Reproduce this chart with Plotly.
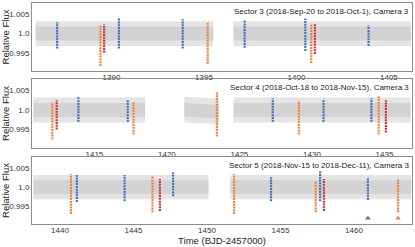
import plotly.graph_objects as go

# ---------------- data ----------------
sector_titles = [
    "Sector 3 (2018-Sep-20 to 2018-Oct-1), Camera 3",
    "Sector 4 (2018-Oct-18 to 2018-Nov-15), Camera 3",
    "Sector 5 (2018-Nov-15 to 2018-Dec-11), Camera 3",
]
x_ranges = [[1385.7, 1406.25], [1410.7, 1436.9], [1438.1, 1463.95]]
x_ticks = [[1390, 1395, 1400, 1405], [1415, 1420, 1425, 1430, 1435],
           [1440, 1445, 1450, 1455, 1460]]
y_ticks = [0.995, 1.0, 1.005]
y_tick_labels = ["0.995", "1.0", "1.005"]

# light-curve coverage (start, end) and envelope of the grey cloud
seg_start = [[1385.9, 1396.6], [1410.8, 1421.2, 1424.6], [1438.2, 1451.6]]
seg_end = [[1395.5, 1406.2], [1418.5, 1423.6, 1436.8], [1450.1, 1463.9]]
outer_hi_start = [[1.0032, 1.0032], [1.0032, 1.0034, 1.0032], [1.0032, 1.0032]]
outer_hi_end = [[1.0032, 1.0032], [1.0032, 1.0029, 1.0032], [1.0032, 1.0032]]
outer_lo_start = [[0.9968, 0.9968], [0.9968, 0.9969, 0.9968], [0.9968, 0.9968]]
outer_lo_end = [[0.9968, 0.9968], [0.9968, 0.9964, 0.9968], [0.9968, 0.9968]]
inner_hi = [[1.0018, 1.0018], [1.0018, 1.0016, 1.0018], [1.0018, 1.0018]]
inner_lo = [[0.9982, 0.9982], [0.9982, 0.9982, 0.9982], [0.9982, 0.9982]]

# individual transit events (time, lowest flux, highest flux, planet)
transit_time = [
    [1387.06, 1389.4, 1389.6, 1390.4, 1393.85, 1395.2, 1397.2, 1400.48, 1400.8, 1401.0, 1403.9],
    [1412.1, 1412.4, 1413.9, 1417.3, 1417.7, 1423.45, 1427.3, 1429.1, 1430.8, 1434.1, 1434.6, 1435.1],
    [1440.75, 1441.15, 1444.4, 1446.3, 1446.8, 1447.7, 1451.85, 1454.36, 1457.4, 1457.7, 1457.96, 1460.95, 1463.0],
]
transit_low = [
    [0.9961, 0.9916, 0.9950, 0.9961, 0.9961, 0.9921, 0.9963, 0.9955, 0.9924, 0.9947, 0.9968],
    [0.9925, 0.9950, 0.9970, 0.9970, 0.99375, 0.99325, 0.9970, 0.99375, 0.9970, 0.9970, 0.99375, 0.99425],
    [0.9929, 0.9961, 0.9963, 0.9934, 0.9937, 0.9976, 0.9929, 0.9963, 0.9934, 0.9963, 0.9937, 0.9966, 0.9934],
]
transit_high = [
    [1.0029, 1.0021, 1.0024, 1.0039, 1.0037, 1.0029, 1.0034, 1.0039, 1.0026, 1.0024, 1.0021],
    [1.0020, 1.0025, 1.0033, 1.0025, 1.0020, 1.0045, 1.0030, 1.00225, 1.0025, 1.0030, 1.0035, 1.0025],
    [1.0034, 1.0032, 1.0032, 1.0029, 1.0021, 1.0039, 1.0034, 1.0026, 1.0016, 1.0042, 1.0021, 1.0026, 1.0021],
]
transit_planet = [
    ["b", "c", "d", "b", "b", "c", "b", "b", "c", "d", "b"],
    ["c", "d", "b", "b", "c", "c", "b", "c", "b", "b", "c", "d"],
    ["c", "b", "b", "c", "d", "b", "c", "b", "c", "b", "d", "b", "c"],
]
marker_time = [1460.95, 1463.0]
marker_flux = [0.9918, 0.9918]
marker_planet = ["b", "c"]

planet_color = {"b": "#4670BE", "c": "#EC8543", "d": "#D0343F"}

# ---------------- figure ----------------
W, H = 415, 247
mt, mb, ml, mr = 3, 23, 32, 3
ph = H - mt - mb
panel_px = [(3, 71), (79, 148), (157, 224)]
domains = [[(H - mb - b) / ph, (H - mb - t) / ph] for t, b in panel_px]

fig = go.Figure()
frame = "#8c8c8c"
tick_font = dict(family="Liberation Sans, Arial, sans-serif", size=8, color="#333333")

for i in range(3):
    xa = "x" if i == 0 else f"x{i+1}"
    ya = "y" if i == 0 else f"y{i+1}"
    # grey photometric cloud
    for j in range(len(seg_start[i])):
        s, e = seg_start[i][j], seg_end[i][j]
        fig.add_trace(go.Scatter(
            x=[s, e, e, s, s],
            y=[outer_hi_start[i][j], outer_hi_end[i][j], outer_lo_end[i][j],
               outer_lo_start[i][j], outer_hi_start[i][j]],
            fill="toself", mode="lines", line=dict(width=0),
            fillcolor="#e4e4e4",
            xaxis=xa, yaxis=ya, hoverinfo="skip", showlegend=False))
        mid_s = (outer_hi_start[i][j] + outer_lo_start[i][j]) / 2 - 1
        mid_e = (outer_hi_end[i][j] + outer_lo_end[i][j]) / 2 - 1
        fig.add_trace(go.Scatter(
            x=[s, e, e, s, s],
            y=[inner_hi[i][j] + mid_s, inner_hi[i][j] + mid_e,
               inner_lo[i][j] + mid_e, inner_lo[i][j] + mid_s, inner_hi[i][j] + mid_s],
            fill="toself", mode="lines", line=dict(width=0),
            fillcolor="#d3d3d3",
            xaxis=xa, yaxis=ya, hoverinfo="skip", showlegend=False))
    # transit events
    for t, lo, hi, p in zip(transit_time[i], transit_low[i], transit_high[i], transit_planet[i]):
        fig.add_trace(go.Scatter(
            x=[t, t], y=[lo, hi], mode="lines",
            line=dict(color=planet_color[p], width=2.2, dash="2px,0.8px"),
            xaxis=xa, yaxis=ya, hoverinfo="skip", showlegend=False))

# triangle markers in sector 5
fig.add_trace(go.Scatter(
    x=marker_time, y=marker_flux, mode="markers",
    marker=dict(symbol="triangle-up", size=5,
                color=[planet_color[p] for p in marker_planet]),
    xaxis="x3", yaxis="y3", hoverinfo="skip", showlegend=False))

layout = dict(
    width=W, height=H,
    margin=dict(l=ml, r=mr, t=mt, b=mb),
    paper_bgcolor="white", plot_bgcolor="white",
    font=dict(family="Liberation Sans, Arial, sans-serif", color="#222222"),
)
for i in range(3):
    xk = "xaxis" if i == 0 else f"xaxis{i+1}"
    yk = "yaxis" if i == 0 else f"yaxis{i+1}"
    ya = "y" if i == 0 else f"y{i+1}"
    xa = "x" if i == 0 else f"x{i+1}"
    layout[xk] = dict(
        domain=[0, 1], anchor=ya, range=x_ranges[i],
        tickvals=x_ticks[i], ticktext=[str(v) for v in x_ticks[i]],
        showgrid=False, zeroline=False, showline=True, linecolor=frame,
        linewidth=1, mirror=True, ticks="", ticklen=0, tickfont=tick_font,
        ticklabelstandoff=-2, automargin=False)
    layout[yk] = dict(
        domain=domains[i], anchor=xa, range=[0.9903, 1.0079],
        tickvals=y_ticks, ticktext=y_tick_labels,
        showgrid=False, zeroline=False, showline=True, linecolor=frame,
        linewidth=1, mirror=True, ticks="", ticklen=0, tickfont=tick_font,
        automargin=False,
        title=dict(text="Relative Flux", standoff=2,
                   font=dict(size=9.5, color="#222222")))
    layout["annotations"] = layout.get("annotations", []) + [dict(
        text=sector_titles[i], xref=f"{xa} domain", yref=f"{ya} domain",
        x=0.995, y=0.955, xanchor="right", yanchor="top", showarrow=False,
        borderpad=0, font=dict(size=8, color="#222222"))]
layout["xaxis3"]["title"] = dict(text="Time (BJD-2457000)", standoff=1,
                                 font=dict(size=9.5, color="#222222"))
fig.update_layout(**layout)

fig.write_html("out.html", config={"displayModeBar": False})

# remove the default page margin so the figure sits at the window origin
with open("out.html", "r", encoding="utf-8") as f:
    html = f.read()
html = html.replace("<head>", "<head><style>html,body{margin:0;padding:0;overflow:hidden;}</style>", 1)
with open("out.html", "w", encoding="utf-8") as f:
    f.write(html)
